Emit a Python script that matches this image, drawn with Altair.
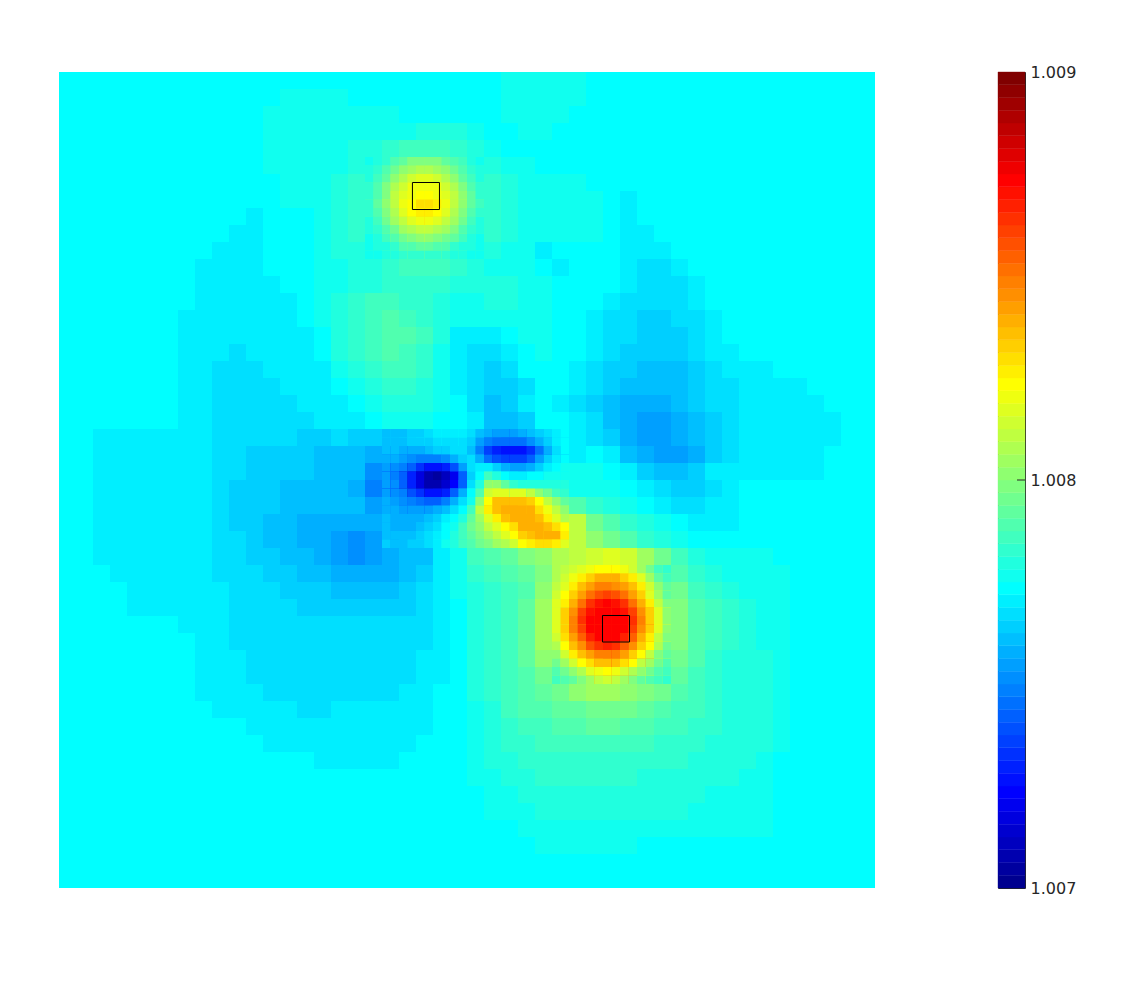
import altair as alt
import pandas as pd

JET = ["#00008f","#00009f","#0000af","#0000bf","#0000cf","#0000df","#0000ef","#0000ff",
       "#0010ff","#0020ff","#0030ff","#0040ff","#0050ff","#0060ff","#0070ff","#0080ff",
       "#008fff","#009fff","#00afff","#00bfff","#00cfff","#00dfff","#00efff","#00ffff",
       "#10ffef","#20ffdf","#30ffcf","#40ffbf","#50ffaf","#60ff9f","#70ff8f","#80ff80",
       "#8fff70","#9fff60","#afff50","#bfff40","#cfff30","#dfff20","#efff10","#ffff00",
       "#ffef00","#ffdf00","#ffcf00","#ffbf00","#ffaf00","#ff9f00","#ff8f00","#ff8000",
       "#ff7000","#ff6000","#ff5000","#ff4000","#ff3000","#ff2000","#ff1000","#ff0000",
       "#ef0000","#df0000","#cf0000","#bf0000","#af0000","#9f0000","#8f0000","#800000"]
LEVELS = list(range(1, 65))
COLORBAR_TICKS = [1.007, 1.008, 1.009]
INNER_TICK = [1.008]
SQUARE_X = [20.79, 31.97]
SQUARE_X2 = [22.38, 33.56]
SQUARE_Y = [6.5, 31.97]
SQUARE_Y2 = [8.09, 33.53]

R00 = [24,24,24,24,24,24,24,24, 24,24,24,24,24,24,24,24, 24,24,24,24,24,24,24,24, 24,24,25,25,25,25,25,24, 24,24,24,24,24,24,24,24, 24,24,24,24,24,24,24,24]
R01 = [24,24,24,24,24,24,24,24, 24,24,24,24,24,25,25,25, 25,24,24,24,24,24,24,24, 24,24,25,25,25,25,25,24, 24,24,24,24,24,24,24,24, 24,24,24,24,24,24,24,24]
R02 = [24,24,24,24,24,24,24,24, 24,24,24,24,25,25,25,25, 25,25,25,25,24,24,24,24, 24,24,25,25,25,25,24,24, 24,24,24,24,24,24,24,24, 24,24,24,24,24,24,24,24]
R03 = [24,24,24,24,24,24,24,24, 24,24,24,24,25,25,25,25, 25,25,25,25,25,26,26,26, 25,24,24,25,25,24,24,24, 24,24,24,24,24,24,24,24, 24,24,24,24,24,24,24,24]
R04 = [24,24,24,24,24,24,24,24, 24,24,24,24,25,25,25,25, 25,26,26,27,28,28,28,27, 26,25,24,24,24,24,24,24, 24,24,24,24,24,24,24,24, 24,24,24,24,24,24,24,24]
R05 = [24,24,24,24,24,24,24,24, 24,24,24,24,25,25,25,25, 25,26,27,29,32,33,32,29, 27,26,25,25,24,24,24,24, 24,24,24,24,24,24,24,24, 24,24,24,24,24,24,24,24]
R06 = [24,24,24,24,24,24,24,24, 24,24,24,24,24,25,25,25, 26,27,29,33,36,38,36,33, 29,27,26,25,25,25,25,24, 24,24,24,24,24,24,24,24, 24,24,24,24,24,24,24,24]
R07 = [24,24,24,24,24,24,24,24, 24,24,24,24,24,25,25,25, 26,27,30,35,39,39,39,35, 30,27,26,25,25,25,25,25, 24,23,24,24,24,24,24,24, 24,24,24,24,24,24,24,24]
R08 = [24,24,24,24,24,24,24,24, 24,24,24,23,24,24,24,25, 26,27,30,35,41,43,41,35, 30,27,26,25,25,25,25,25, 24,23,24,24,24,24,24,24, 24,24,24,24,24,24,24,24]
R09 = [24,24,24,24,24,24,24,24, 24,24,23,23,24,24,24,25, 26,27,29,33,36,38,36,33, 29,27,26,25,25,25,25,25, 24,23,23,24,24,24,24,24, 24,24,24,24,24,24,24,24]
R10 = [24,24,24,24,24,24,24,24, 24,23,23,23,24,24,24,25, 26,26,27,29,32,33,32,29, 27,26,25,25,23,24,24,24, 24,23,23,23,24,24,24,24, 24,24,24,24,24,24,24,24]
R11 = [24,24,24,24,24,24,24,24, 23,23,23,23,24,24,24,25, 25,26,26,27,28,28,28,27, 26,25,25,25,24,23,24,24, 24,23,22,22,23,24,24,24, 24,24,24,24,24,24,24,24]
R12 = [24,24,24,24,24,24,24,24, 23,23,23,23,23,24,24,25, 25,26,26,27,27,27,27,26, 26,26,26,25,25,24,24,24, 24,23,22,22,22,23,24,24, 24,24,24,24,24,24,24,24]
R13 = [24,24,24,24,24,24,24,24, 23,23,23,23,23,23,24,25, 26,27,28,28,27,27,26,25, 25,26,26,25,25,24,24,24, 23,22,22,22,22,23,24,24, 24,24,24,24,24,24,24,24]
R14 = [24,24,24,24,24,24,24,23, 23,23,23,23,23,23,24,25, 26,27,28,29,28,27,26,25, 25,25,25,25,25,24,24,23, 22,22,21,21,22,22,23,24, 24,24,24,24,24,24,24,24]
R15 = [24,24,24,24,24,24,24,23, 23,23,23,23,23,23,23,24, 26,27,28,29,29,28,26,23, 23,23,24,25,25,24,24,23, 22,22,21,21,21,22,23,24, 24,24,24,24,24,24,24,24]
R16 = [24,24,24,24,24,24,24,23, 23,23,22,23,23,23,23,24, 26,27,28,29,28,27,25,23, 22,22,23,24,25,24,24,23, 22,21,21,21,21,22,23,23, 24,24,24,24,24,24,24,24]
R17 = [24,24,24,24,24,24,24,23, 23,22,22,22,23,23,23,23, 25,26,27,28,28,27,25,23, 22,21,22,24,24,24,23,22, 21,21,20,20,20,21,22,23, 23,23,24,24,24,24,24,24]
R18 = [24,24,24,24,24,24,24,23, 23,22,22,22,22,23,23,23, 24,25,26,27,27,26,25,23, 22,21,21,22,24,24,23,22, 21,20,20,20,20,21,22,22, 23,23,23,23,24,24,24,24]
R19 = [24,24,24,24,24,24,24,23, 23,22,22,22,22,22,23,23, 23,24,25,26,26,26,25,24, 22,20,21,23,24,23,22,21, 20,19,19,19,20,21,22,22, 23,23,23,23,23,24,24,24]
R20 = [24,24,24,24,24,24,24,23, 23,22,22,22,22,22,22,23, 23,23,24,25,25,25,24,24, 23,20,20,21,24,24,23,22, 20,19,18,18,19,20,21,22, 23,23,23,23,23,23,24,24]
R21 = [24,24,23,23,23,23,23,23, 23,22,22,22,22,22,21,21, 22,21,21,21,22,23,24,24, 21,15,14,14,19,22,23,22, 21,19,18,18,19,20,21,22, 23,23,23,23,23,23,24,24]
R22 = [24,24,23,23,23,23,23,23, 23,22,22,21,21,21,21,20, 20,20,19,16,15,16,19,22, 18,9,9,9,13,19,23,24, 23,20,19,18,18,19,21,22, 23,23,23,23,23,24,24,24]
R23 = [24,24,23,23,23,23,23,23, 23,22,22,21,21,21,21,20, 20,20,17,11,5,2,3,13, 23,25,22,20,22,24,25,25, 24,23,21,20,20,21,23,23, 23,23,23,23,23,24,24,24]
R24 = [24,24,23,23,23,23,23,23, 23,22,21,21,21,20,20,20, 20,19,16,10,4,1,4,17, 26,37,29,27,26,25,25,25, 25,24,23,22,21,21,22,23, 24,24,24,24,24,24,24,24]
R25 = [24,24,23,23,23,23,23,23, 23,22,21,21,21,20,20,20, 20,20,18,17,14,13,16,22, 31,44,45,44,40,33,29,27, 26,25,24,23,22,22,23,23, 24,24,24,24,24,24,24,24]
R26 = [24,24,23,23,23,23,23,23, 23,22,21,21,20,20,19,19, 19,19,19,19,19,21,23,26, 31,37,41,45,45,41,36,31, 29,27,26,25,24,23,23,23, 24,24,24,24,24,24,24,24]
R27 = [24,24,23,23,23,23,23,23, 23,22,22,21,20,20,19,19, 18,17,18,19,20,22,24,26, 29,31,34,39,43,42,36,33, 31,29,27,26,25,24,24,24, 24,24,24,24,24,24,24,24]
R28 = [24,24,23,23,23,23,23,23, 23,22,22,21,21,20,20,19, 18,17,18,19,20,20,23,25, 28,29,30,32,33,35,36,37, 38,37,34,31,28,26,25,25, 25,25,24,24,24,24,24,24]
R29 = [24,24,24,23,23,23,23,23, 23,22,22,22,21,21,20,20, 19,19,19,19,20,21,23,25, 27,28,29,30,32,35,39,42, 44,42,38,33,29,27,26,25, 25,25,25,24,24,24,24,24]
R30 = [24,24,24,24,23,23,23,23, 23,23,22,22,22,21,21,21, 20,20,20,20,21,22,23,25, 26,27,28,29,33,36,42,46, 48,46,42,36,31,28,27,26, 25,25,25,24,24,24,24,24]
R31 = [24,24,24,24,23,23,23,23, 23,23,22,22,22,22,21,21, 21,21,21,21,21,22,23,24, 26,27,28,30,34,37,44,50, 52,50,46,39,32,29,28,27, 26,25,25,24,24,24,24,24]
R32 = [24,24,24,24,24,24,24,23, 23,23,22,22,22,22,22,22, 22,22,22,22,22,22,23,24, 26,27,28,30,34,38,46,53, 55,55,49,40,32,29,28,27, 26,25,25,24,24,24,24,24]
R33 = [24,24,24,24,24,24,24,24, 23,23,22,22,22,22,22,22, 22,22,22,22,22,22,23,24, 26,27,28,30,34,37,45,52, 55,54,48,40,32,29,28,27, 26,25,25,24,24,24,24,24]
R34 = [24,24,24,24,24,24,24,24, 23,23,23,22,22,22,22,22, 22,22,22,22,22,23,23,24, 26,27,28,30,33,35,42,49, 52,51,46,38,31,29,27,26, 26,26,25,24,24,24,24,24]
R35 = [24,24,24,24,24,24,24,24, 23,23,23,22,22,22,22,22, 22,22,22,22,22,23,23,24, 26,27,28,29,31,33,38,44, 46,45,40,34,30,28,27,26, 26,26,25,24,24,24,24,24]
R36 = [24,24,24,24,24,24,24,24, 23,23,23,23,22,22,22,22, 22,22,22,22,23,23,24,24, 26,27,28,29,30,31,33,34, 34,33,32,31,29,28,27,26, 26,26,25,24,24,24,24,24]
R37 = [24,24,24,24,24,24,24,24, 24,23,23,23,23,23,22,22, 23,23,23,23,23,23,24,24, 25,26,28,29,29,30,30,31, 31,31,30,29,28,28,27,26, 26,26,25,24,24,24,24,24]
R38 = [24,24,24,24,24,24,24,24, 24,24,24,23,23,23,23,23, 23,23,23,23,23,23,24,24, 25,26,27,28,28,29,29,30, 30,29,29,28,28,27,27,26, 26,26,25,24,24,24,24,24]
R39 = [24,24,24,24,24,24,24,24, 24,24,24,24,23,23,23,23, 23,23,23,23,23,24,24,24, 25,26,27,27,28,28,28,28, 28,28,28,27,27,27,26,26, 26,26,25,24,24,24,24,24]
R40 = [24,24,24,24,24,24,24,24, 24,24,24,24,24,24,24,23, 23,23,23,23,24,24,24,24, 25,26,26,27,27,27,27,27, 27,27,27,27,27,26,26,26, 26,25,24,24,24,24,24,24]
R41 = [24,24,24,24,24,24,24,24, 24,24,24,24,24,24,24,24, 24,24,24,24,24,24,24,24, 25,25,26,26,27,27,27,27, 27,27,26,26,26,26,26,26, 25,25,24,24,24,24,24,24]
R42 = [24,24,24,24,24,24,24,24, 24,24,24,24,24,24,24,24, 24,24,24,24,24,24,24,24, 24,25,25,26,26,26,26,26, 26,26,26,26,26,26,25,25, 25,25,24,24,24,24,24,24]
R43 = [24,24,24,24,24,24,24,24, 24,24,24,24,24,24,24,24, 24,24,24,24,24,24,24,24, 24,25,25,25,26,26,26,26, 26,26,26,26,26,25,25,25, 25,25,24,24,24,24,24,24]
R44 = [24,24,24,24,24,24,24,24, 24,24,24,24,24,24,24,24, 24,24,24,24,24,24,24,24, 24,24,24,25,25,25,25,25, 25,25,25,25,25,25,25,25, 25,25,24,24,24,24,24,24]
R45 = [24,24,24,24,24,24,24,24, 24,24,24,24,24,24,24,24, 24,24,24,24,24,24,24,24, 24,24,24,24,25,25,25,25, 25,25,24,24,24,24,24,24, 24,24,24,24,24,24,24,24]
R46 = [24,24,24,24,24,24,24,24, 24,24,24,24,24,24,24,24, 24,24,24,24,24,24,24,24, 24,24,24,24,24,24,24,24, 24,24,24,24,24,24,24,24, 24,24,24,24,24,24,24,24]
R47 = [24,24,24,24,24,24,24,24, 24,24,24,24,24,24,24,24, 24,24,24,24,24,24,24,24, 24,24,24,24,24,24,24,24, 24,24,24,24,24,24,24,24, 24,24,24,24,24,24,24,24]

ROWS = [R00,R01,R02,R03,R04,R05,R06,R07,R08,R09,R10,R11,R12,R13,R14,R15,
        R16,R17,R18,R19,R20,R21,R22,R23,R24,R25,R26,R27,R28,R29,R30,R31,
        R32,R33,R34,R35,R36,R37,R38,R39,R40,R41,R42,R43,R44,R45,R46,R47]

# finer readings, half a cell apart, around the centre of the picture
CENTRE_ORIGIN = (19, 21)
CENTRE = [
    [20,20,20,21,21,22,23,23,23,23,22,20,19,18,18,18,19,20,21,22,23,24],
    [20,20,20,21,21,21,22,22,22,22,21,18,16,15,15,15,15,17,19,21,23,24],
    [20,20,19,19,19,20,21,21,22,22,20,16,12,10,9,9,9,11,15,19,22,24],
    [19,19,18,17,16,16,16,17,19,21,22,19,15,13,12,12,12,14,18,21,23,24],
    [18,17,16,14,11,9,9,10,13,18,22,23,23,21,19,18,18,19,21,23,24,25],
    [18,16,14,10,6,3,2,4,7,14,21,24,28,26,24,23,23,24,24,25,25,25],
    [18,17,14,10,6,3,3,5,8,14,22,26,33,33,30,27,26,26,26,26,26,26],
    [18,17,16,13,11,9,9,10,14,19,24,29,37,38,38,38,38,36,33,31,28,27],
    [19,18,17,16,15,14,14,16,19,22,25,33,40,44,44,44,44,43,40,36,33,30],
    [19,19,18,18,18,18,19,20,22,24,28,36,41,44,45,45,45,45,42,39,36,33],
    [20,19,19,19,19,20,21,23,24,26,30,34,38,41,44,45,45,45,44,41,38,35],
    [20,19,19,19,20,21,22,24,25,28,31,33,36,38,40,42,45,45,45,44,42,40],
    [20,20,20,20,21,22,23,24,26,28,30,32,34,36,38,40,43,44,45,45,45,41],
    [21,20,20,21,21,22,23,25,26,28,29,31,32,34,35,37,40,41,42,42,41,38],
]
# finer readings around the red spot
HOT_ORIGIN = (29, 29)
HOT = [
    [35,36,37,38,39,40,40,40,39,37,34,31,28,27],
    [35,37,39,41,43,45,45,45,43,41,38,34,30,28],
    [36,38,41,44,46,48,48,47,46,44,41,37,33,30],
    [37,40,43,46,49,51,52,51,49,46,43,38,34,30],
    [38,41,45,49,53,55,56,55,53,49,45,41,36,32],
    [38,43,47,52,55,56,56,56,55,52,47,43,38,33],
    [38,43,48,53,56,56,56,56,56,53,48,43,38,33],
    [38,43,48,52,56,56,56,56,56,52,47,43,38,33],
    [37,42,46,50,54,56,56,56,54,50,45,41,36,32],
    [35,40,44,47,51,53,54,53,50,47,43,40,35,31],
    [33,37,41,44,46,48,48,48,46,43,40,36,32,30],
    [31,34,37,40,42,44,44,44,42,40,36,34,31,29],
    [29,31,33,35,38,39,40,39,37,35,33,31,29,28],
    [28,29,30,32,34,36,37,36,34,32,30,29,28,27],
]
# finer readings around the yellow spot
TOP_ORIGIN = (18, 5)
TOP = [
    [25,26,27,29,30,32,32,32,32,30,29,28,26,25],
    [26,27,29,31,33,34,35,35,34,33,31,29,27,26],
    [26,28,30,33,35,37,38,38,37,35,33,30,28,26],
    [27,29,32,35,37,39,39,39,39,37,35,32,29,27],
    [27,29,32,36,38,39,40,40,39,38,36,33,30,27],
    [27,30,33,36,39,40,42,42,41,39,36,33,30,28],
    [27,29,32,35,38,40,41,41,40,38,35,32,29,27],
    [26,28,31,34,36,38,39,39,38,36,34,31,28,26],
    [26,27,29,31,34,35,36,36,35,34,32,29,27,26],
    [25,26,28,29,31,32,33,33,32,31,30,28,26,25],
    [25,26,26,27,29,29,30,30,29,29,27,26,26,25],
    [25,25,26,26,27,27,27,27,27,27,26,26,25,25],
]

records = [{"c": c, "c2": c + 1, "r": r, "r2": r + 1, "level": v}
           for r, row in enumerate(ROWS) for c, v in enumerate(row)]
for (ox, oy), patch in ((CENTRE_ORIGIN, CENTRE), (HOT_ORIGIN, HOT), (TOP_ORIGIN, TOP)):
    for i, row in enumerate(patch):
        for j, v in enumerate(row):
            records.append({"c": ox + j / 2, "c2": ox + (j + 1) / 2,
                            "r": oy + i / 2, "r2": oy + (i + 1) / 2, "level": v})
cells = pd.DataFrame(records)
squares = pd.DataFrame({"x": SQUARE_X, "x2": SQUARE_X2, "y": SQUARE_Y, "y2": SQUARE_Y2})

color_scale = alt.Scale(domain=LEVELS, range=JET)
x_scale = alt.Scale(domain=[0, 48], nice=False, zero=False)
y_scale = alt.Scale(domain=[48, 0], nice=False, zero=False)

heat = alt.Chart(cells).mark_rect().encode(
    x=alt.X("c:Q", scale=x_scale, axis=None),
    x2="c2:Q",
    y=alt.Y("r:Q", scale=y_scale, axis=None),
    y2="r2:Q",
    color=alt.Color("level:O", scale=color_scale, legend=None),
)
boxes = alt.Chart(squares).mark_rect(fill=None, stroke="#000000", strokeWidth=1).encode(
    x=alt.X("x:Q", scale=x_scale, axis=None),
    x2="x2:Q",
    y=alt.Y("y:Q", scale=y_scale, axis=None),
    y2="y2:Q",
)
main = (heat + boxes).properties(width=816, height=816)

bands = pd.DataFrame({
    "level": LEVELS,
    "lo": [1.007 + (v - 1) * 0.002 / 64 for v in LEVELS],
    "hi": [1.007 + v * 0.002 / 64 for v in LEVELS],
})
cb_scale = alt.Scale(domain=[1.007, 1.009], nice=False, zero=False)
cb_axis = alt.Axis(
    orient="right", values=COLORBAR_TICKS, format=".3f", tickSize=0, domain=False,
    grid=False, labelPadding=5, labelFont="DejaVu Sans", labelFontSize=16,
    labelColor="#262626", title=None)
bar = alt.Chart(bands).mark_rect(strokeWidth=0.4).encode(
    x=alt.value(0),
    x2=alt.value(27),
    y=alt.Y("lo:Q", scale=cb_scale, axis=cb_axis),
    y2="hi:Q",
    color=alt.Color("level:O", scale=color_scale, legend=None),
    stroke=alt.Stroke("level:O", scale=color_scale, legend=None),
)
tick = alt.Chart(pd.DataFrame({"v": INNER_TICK})).mark_rule(color="#262626", strokeWidth=1).encode(
    x=alt.value(19),
    x2=alt.value(27),
    y=alt.Y("v:Q", scale=cb_scale, axis=cb_axis),
)
colorbar = (bar + tick).properties(width=27, height=816, view=alt.ViewConfig(stroke="#262626"))

chart = (
    alt.hconcat(main, colorbar, spacing=122)
    .resolve_scale(color="independent")
    .properties(padding={"left": 51, "top": 55, "right": 20, "bottom": 20}, background="white")
    .configure_view(stroke=None)
)
chart.save("out.html", embed_options={"renderer": "svg", "actions": False})
